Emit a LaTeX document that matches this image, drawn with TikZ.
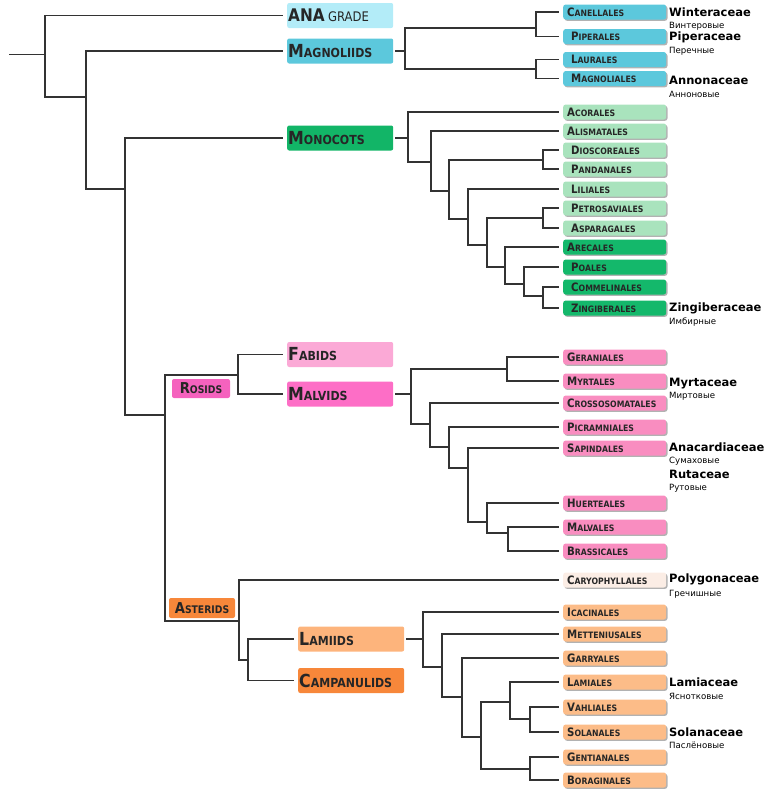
\documentclass[tikz,border=0pt]{standalone}
\usepackage{fontspec}
\setmainfont{DejaVu Sans}
\newfontfamily\cnd{DejaVu Sans}[FakeStretch=0.88]
\usetikzlibrary{shadows}
\definecolor{ln}{HTML}{333333}
\definecolor{cana}{HTML}{B3ECF8}
\definecolor{cmag}{HTML}{5CC8DC}
\definecolor{cmono}{HTML}{12B567}
\definecolor{cmonol}{HTML}{A9E3BD}
\definecolor{cmonod}{HTML}{14B86B}
\definecolor{cfab}{HTML}{FBA9D6}
\definecolor{cmalv}{HTML}{FD6EC6}
\definecolor{cros}{HTML}{F562BE}
\definecolor{cmalvo}{HTML}{F98DC0}
\definecolor{cast}{HTML}{F7873A}
\definecolor{clam}{HTML}{FDB47C}
\definecolor{casto}{HTML}{FCBC88}
\definecolor{ccar}{HTML}{FBEDE5}
\newcommand{\ordsc}[2]{{\cnd\bfseries\fontsize{11.6}{12}\selectfont #1\fontsize{8.8}{10}\selectfont #2}}
\newcommand{\cladesc}[2]{{\cnd\bfseries\fontsize{18}{20}\selectfont #1\fontsize{12.5}{14}\selectfont #2}}
\newcommand{\midsc}[2]{{\cnd\bfseries\fontsize{15}{16}\selectfont #1\fontsize{10.5}{12}\selectfont #2}}
\newcommand{\ind}{\hspace*{4pt}}
\tikzset{
  link/.style={draw=ln, line width=1.3pt},
  tolink/.style={link, shorten >=4pt},
  ordbox/.style={anchor=west, rounded corners=2.5pt, minimum height=15pt, text width=95pt,
    inner xsep=4pt, inner ysep=0pt, align=left, text=black!85,
    drop shadow={shadow xshift=1.3pt, shadow yshift=-1.3pt, fill=black, opacity=0.3}},
  cladebox/.style={anchor=west, rounded corners=2pt, minimum height=25pt, text width=104pt,
    inner xsep=1pt, inner ysep=0pt, align=left, text=black!85},
  midbox/.style={rounded corners=2pt, inner sep=0pt, align=center, text=black!85},
  fam/.style={anchor=base west, font=\bfseries\fontsize{11.5}{12}\selectfont, inner sep=0pt},
  rus/.style={anchor=base west, font=\fontsize{8.6}{10}\selectfont, inner sep=0pt},
}
\begin{document}
\begin{tikzpicture}[x=1pt,y=-1pt]
\useasboundingbox (0,0) rectangle (768,796);
% ---------- clade boxes ----------
\node[cladebox, fill=cana] (ana) at (287,15.5) {{\cnd\bfseries\fontsize{17.4}{18}\selectfont ANA} {\cnd\fontsize{13.2}{14}\selectfont GRADE}};
\node[cladebox, fill=cmag] (magnoliids) at (287,51) {\cladesc{M}{AGNOLIIDS}};
\node[cladebox, fill=cmono] (monocots) at (287,138) {\cladesc{M}{ONOCOTS}};
\node[cladebox, fill=cfab] (fabids) at (287,354.5) {\cladesc{F}{ABIDS}};
\node[cladebox, fill=cmalv] (malvids) at (287,394) {\cladesc{M}{ALVIDS}};
\node[cladebox, fill=clam] (lamiids) at (298,639) {\cladesc{L}{AMIIDS}};
\node[cladebox, fill=cast] (campanulids) at (298,680.5) {\cladesc{C}{AMPANULIDS}};
\node[midbox, fill=cros, minimum width=58pt, minimum height=19pt] (rosids) at (201,388.5) {\midsc{R}{OSIDS}};
\node[midbox, fill=cast, minimum width=66pt, minimum height=20pt] (asterids) at (202,608) {\midsc{A}{STERIDS}};
% ---------- order boxes ----------
\node[ordbox, fill=cmag] (canellales) at (563,12) {\ordsc{C}{ANELLALES}};
\node[ordbox, fill=cmag] (piperales) at (563,36.5) {\ind\ordsc{P}{IPERALES}};
\node[ordbox, fill=cmag] (laurales) at (563,59.5) {\ind\ordsc{L}{AURALES}};
\node[ordbox, fill=cmag] (magnoliales) at (563,78.5) {\ind\ordsc{M}{AGNOLIALES}};
\node[ordbox, fill=cmonol] (acorales) at (563,112) {\ordsc{A}{CORALES}};
\node[ordbox, fill=cmonol] (alismatales) at (563,131) {\ordsc{A}{LISMATALES}};
\node[ordbox, fill=cmonol] (dioscoreales) at (563,150) {\ind\ordsc{D}{IOSCOREALES}};
\node[ordbox, fill=cmonol] (pandanales) at (563,169) {\ind\ordsc{P}{ANDANALES}};
\node[ordbox, fill=cmonol] (liliales) at (563,189) {\ind\ordsc{L}{ILIALES}};
\node[ordbox, fill=cmonol] (petrosaviales) at (563,208) {\ind\ordsc{P}{ETROSAVIALES}};
\node[ordbox, fill=cmonol] (asparagales) at (563,228) {\ind\ordsc{A}{SPARAGALES}};
\node[ordbox, fill=cmonod] (arecales) at (563,247) {\ordsc{A}{RECALES}};
\node[ordbox, fill=cmonod] (poales) at (563,267) {\ind\ordsc{P}{OALES}};
\node[ordbox, fill=cmonod] (commelinales) at (563,287) {\ind\ordsc{C}{OMMELINALES}};
\node[ordbox, fill=cmonod] (zingiberales) at (563,308) {\ind\ordsc{Z}{INGIBERALES}};
\node[ordbox, fill=cmalvo] (geraniales) at (563,357) {\ordsc{G}{ERANIALES}};
\node[ordbox, fill=cmalvo] (myrtales) at (563,381) {\ordsc{M}{YRTALES}};
\node[ordbox, fill=cmalvo] (crossosomatales) at (563,403) {\ordsc{C}{ROSSOSOMATALES}};
\node[ordbox, fill=cmalvo] (picramniales) at (563,427) {\ordsc{P}{ICRAMNIALES}};
\node[ordbox, fill=cmalvo] (sapindales) at (563,448) {\ordsc{S}{APINDALES}};
\node[ordbox, fill=cmalvo] (huerteales) at (563,503) {\ordsc{H}{UERTEALES}};
\node[ordbox, fill=cmalvo] (malvales) at (563,527) {\ordsc{M}{ALVALES}};
\node[ordbox, fill=cmalvo] (brassicales) at (563,551) {\ordsc{B}{RASSICALES}};
\node[ordbox, fill=ccar] (caryophyllales) at (563,580) {\ordsc{C}{ARYOPHYLLALES}};
\node[ordbox, fill=casto] (icacinales) at (563,612) {\ordsc{I}{CACINALES}};
\node[ordbox, fill=casto] (metteniusales) at (563,634) {\ordsc{M}{ETTENIUSALES}};
\node[ordbox, fill=casto] (garryales) at (563,658) {\ordsc{G}{ARRYALES}};
\node[ordbox, fill=casto] (lamiales) at (563,682) {\ordsc{L}{AMIALES}};
\node[ordbox, fill=casto] (vahliales) at (563,707) {\ordsc{V}{AHLIALES}};
\node[ordbox, fill=casto] (solanales) at (563,732) {\ordsc{S}{OLANALES}};
\node[ordbox, fill=casto] (gentianales) at (563,757) {\ordsc{G}{ENTIANALES}};
\node[ordbox, fill=casto] (boraginales) at (563,780) {\ordsc{B}{ORAGINALES}};
% ---------- family labels ----------
\node[fam] (winter) at (669,16) {Winteraceae};
\node[rus] (winterru) at (669,28) {Винтеровые};
\node[fam] (piper) at (669,40) {Piperaceae};
\node[rus] (piperru) at (669,53) {Перечные};
\node[fam] (annon) at (669,84) {Annonaceae};
\node[rus] (annonru) at (669,97) {Анноновые};
\node[fam] (zingib) at (669,311) {Zingiberaceae};
\node[rus] (zingibru) at (669,324) {Имбирные};
\node[fam] (myrt) at (669,386) {Myrtaceae};
\node[rus] (myrtru) at (669,398) {Миртовые};
\node[fam] (anacard) at (669,451) {Anacardiaceae};
\node[rus] (anacardru) at (669,463) {Сумаховые};
\node[fam] (rut) at (669,478) {Rutaceae};
\node[rus] (rutru) at (669,490) {Рутовые};
\node[fam] (polyg) at (669,582) {Polygonaceae};
\node[rus] (polygru) at (669,596) {Гречишные};
\node[fam] (lamiac) at (669,686) {Lamiaceae};
\node[rus] (lamiacru) at (669,699) {Яснотковые};
\node[fam] (solanac) at (669,736) {Solanaceae};
\node[rus] (solanacru) at (669,748) {Паслёновые};
% ---------- internal tree nodes ----------
\coordinate (rootstart) at (9,54);
\coordinate (r0) at (45,54);
\coordinate (r1) at (86,97);
\coordinate (r2) at (125,189);
\coordinate (r3) at (165,415);
\coordinate (ros) at (238,375);
\coordinate (ast) at (239,621);
\coordinate (lc) at (248,660);
\coordinate (mg0) at (405,51);
\coordinate (mg1) at (536,28);
\coordinate (mg2) at (536,69);
\coordinate (mo0) at (408,138);
\coordinate (mo1) at (431,162);
\coordinate (mo2) at (449,191);
\coordinate (mo3) at (543,160);
\coordinate (mo4) at (468,219);
\coordinate (mo5) at (487,245);
\coordinate (mo6) at (543,218);
\coordinate (mo7) at (505,267);
\coordinate (mo8) at (524,284);
\coordinate (mo9) at (543,296);
\coordinate (mv0) at (411,394);
\coordinate (mv1) at (507,369);
\coordinate (mv2) at (430,424);
\coordinate (mv3) at (449,447);
\coordinate (mv4) at (468,468);
\coordinate (mv5) at (487,522);
\coordinate (mv6) at (508,533);
\coordinate (lm0) at (423,639);
\coordinate (lm1) at (442,667);
\coordinate (lm2) at (462,697);
\coordinate (lm3) at (481,737);
\coordinate (lm4) at (510,702);
\coordinate (lm5) at (530,769);
\coordinate (lm6) at (530,719);
% ---------- backbone ----------
\draw[draw=ln, line width=0.8pt] (rootstart) -- (r0);
\draw[tolink] (r0) |- (ana.west);
\draw[link] (r0) |- (r1);
\draw[tolink] (r1) |- (magnoliids.west);
\draw[link] (r1) |- (r2);
\draw[tolink] (r2) |- (monocots.west);
\draw[link] (r2) |- (r3);
\draw[link] (r3) |- (ros);
\draw[link] (r3) |- (ast);
\draw[tolink] (ros) |- (fabids.west);
\draw[tolink] (ros) |- (malvids.west);
\draw[tolink] (ast) |- (caryophyllales.west);
\draw[link] (ast) |- (lc);
\draw[tolink] (lc) |- (lamiids.west);
\draw[tolink] (lc) |- (campanulids.west);
% ---------- magnoliids ----------
\draw[link, shorten <=2pt] (magnoliids.east) -- (mg0);
\draw[link] (mg0) |- (mg1);
\draw[link] (mg0) |- (mg2);
\draw[tolink] (mg1) |- (canellales.west);
\draw[tolink] (mg1) |- (piperales.west);
\draw[tolink] (mg2) |- (laurales.west);
\draw[tolink] (mg2) |- (magnoliales.west);
% ---------- monocots ----------
\draw[link, shorten <=2pt] (monocots.east) -- (mo0);
\draw[tolink] (mo0) |- (acorales.west);
\draw[link] (mo0) |- (mo1);
\draw[tolink] (mo1) |- (alismatales.west);
\draw[link] (mo1) |- (mo2);
\draw[link] (mo2) |- (mo3);
\draw[tolink] (mo3) |- (dioscoreales.west);
\draw[tolink] (mo3) |- (pandanales.west);
\draw[link] (mo2) |- (mo4);
\draw[tolink] (mo4) |- (liliales.west);
\draw[link] (mo4) |- (mo5);
\draw[link] (mo5) |- (mo6);
\draw[tolink] (mo6) |- (petrosaviales.west);
\draw[tolink] (mo6) |- (asparagales.west);
\draw[link] (mo5) |- (mo7);
\draw[tolink] (mo7) |- (arecales.west);
\draw[link] (mo7) |- (mo8);
\draw[tolink] (mo8) |- (poales.west);
\draw[link] (mo8) |- (mo9);
\draw[tolink] (mo9) |- (commelinales.west);
\draw[tolink] (mo9) |- (zingiberales.west);
% ---------- malvids ----------
\draw[link, shorten <=2pt] (malvids.east) -- (mv0);
\draw[link] (mv0) |- (mv1);
\draw[tolink] (mv1) |- (geraniales.west);
\draw[tolink] (mv1) |- (myrtales.west);
\draw[link] (mv0) |- (mv2);
\draw[tolink] (mv2) |- (crossosomatales.west);
\draw[link] (mv2) |- (mv3);
\draw[tolink] (mv3) |- (picramniales.west);
\draw[link] (mv3) |- (mv4);
\draw[tolink] (mv4) |- (sapindales.west);
\draw[link] (mv4) |- (mv5);
\draw[tolink] (mv5) |- (huerteales.west);
\draw[link] (mv5) |- (mv6);
\draw[tolink] (mv6) |- (malvales.west);
\draw[tolink] (mv6) |- (brassicales.west);
% ---------- lamiids ----------
\draw[link, shorten <=2pt] (lamiids.east) -- (lm0);
\draw[tolink] (lm0) |- (icacinales.west);
\draw[link] (lm0) |- (lm1);
\draw[tolink] (lm1) |- (metteniusales.west);
\draw[link] (lm1) |- (lm2);
\draw[tolink] (lm2) |- (garryales.west);
\draw[link] (lm2) |- (lm3);
\draw[link] (lm3) |- (lm4);
\draw[tolink] (lm4) |- (lamiales.west);
\draw[link] (lm4) |- (lm6);
\draw[tolink] (lm6) |- (vahliales.west);
\draw[tolink] (lm6) |- (solanales.west);
\draw[link] (lm3) |- (lm5);
\draw[tolink] (lm5) |- (gentianales.west);
\draw[tolink] (lm5) |- (boraginales.west);
\end{tikzpicture}
\end{document}
